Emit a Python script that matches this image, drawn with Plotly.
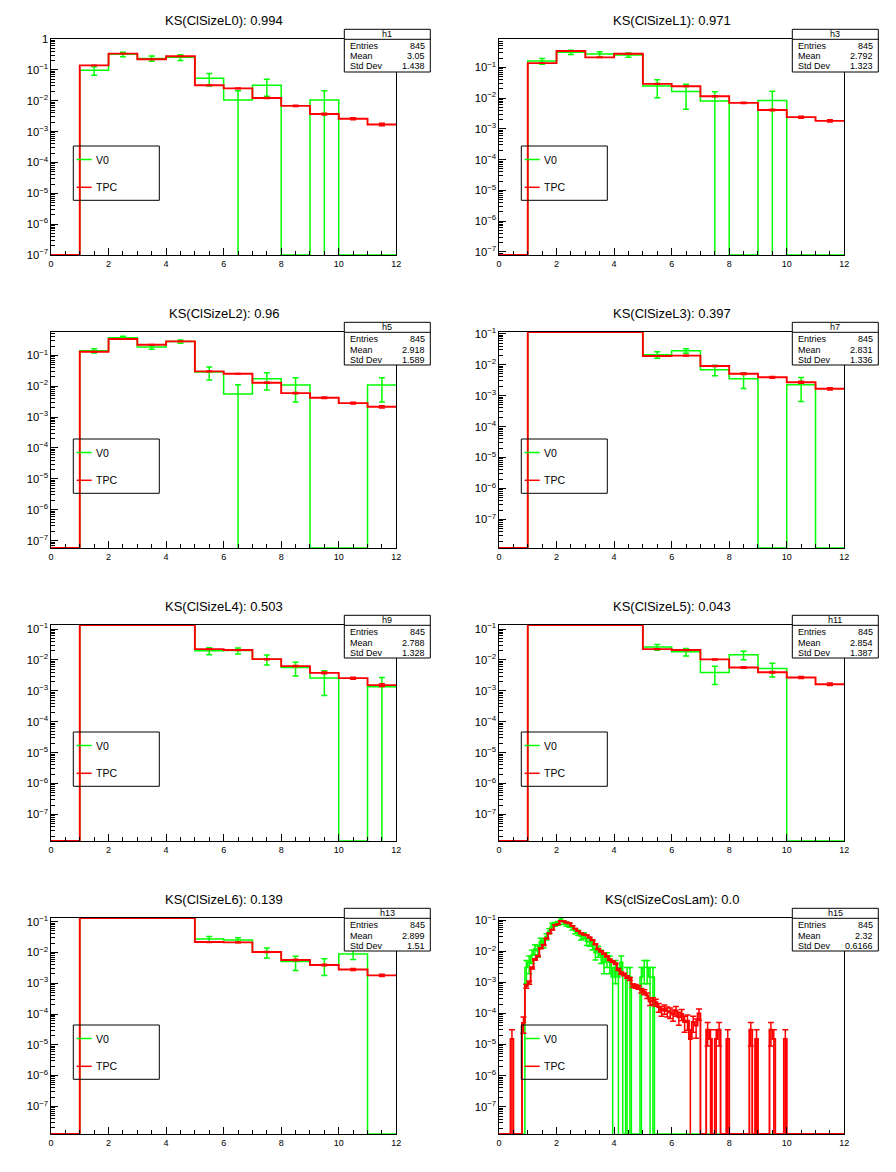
import numpy as np
import plotly.graph_objects as go
from plotly.subplots import make_subplots

W, H = 896, 1172
PAD_W, PAD_H = 448, 293
GREEN, RED = "#00ff00", "#ff0000"
FONT = "Liberation Sans, Arial, sans-serif"

# ---- data: normalised histograms, V0 (green) vs TPC (red) ----
layer_edges = list(range(13))  # 12 unit bins, 0..12

v0_l0 = [0, 0.097, 0.32, 0.235, 0.255, 0.053, 0.0105, 0.032, 0, 0.0106, 0, 0]
v0_l0_err = [0, 0.03, 0.055, 0.045, 0.055, 0.023, 0.0105, 0.018, 0, 0.0106, 0, 0]
tpc_l0 = [0, 0.14, 0.335, 0.22, 0.275, 0.0316, 0.0252, 0.0123, 0.0068, 0.0037, 0.0026, 0.0017]
tpc_l0_err = [0, 0.0014, 0.0022, 0.0018, 0.002, 0.00067, 0.0006, 0.00042, 0.0003, 0.00023, 0.00019, 0.00015]

v0_l1 = [0, 0.16, 0.31, 0.27, 0.251, 0.0248, 0.0163, 0.0081, 0, 0.0083, 0, 0]
v0_l1_err = [0, 0.035, 0.05, 0.05, 0.04, 0.0145, 0.012, 0.0081, 0, 0.0083, 0, 0]
tpc_l1 = [0, 0.137, 0.339, 0.211, 0.277, 0.029, 0.0242, 0.0115, 0.007, 0.0041, 0.0024, 0.00182]
tpc_l1_err = [0, 0.0014, 0.0022, 0.0017, 0.002, 0.00064, 0.00058, 0.0004, 0.00031, 0.00024, 0.00018, 0.00016]

v0_l2 = [0, 0.141, 0.374, 0.186, 0.28, 0.029, 0.0056, 0.0175, 0.0109, 0, 0, 0.0109]
v0_l2_err = [0, 0.022, 0.04, 0.027, 0.035, 0.013, 0.0056, 0.01, 0.0078, 0, 0, 0.0078]
tpc_l2 = [0, 0.131, 0.339, 0.222, 0.284, 0.0303, 0.0254, 0.013, 0.006, 0.00424, 0.00284, 0.00216]
tpc_l2_err = [0, 0.0014, 0.0022, 0.0018, 0.002, 0.00065, 0.0006, 0.00043, 0.00029, 0.00024, 0.0002, 0.00017]

v0_l3 = [0, 0.17, 0.33, 0.21, 0.26, 0.021, 0.028, 0.00685, 0.0035, 0, 0.00225, 0]
v0_l3_err = [0, 0.02, 0.05, 0.04, 0.045, 0.005, 0.0045, 0.0025, 0.0018, 0, 0.0016, 0]
tpc_l3 = [0, 0.145, 0.33, 0.22, 0.27, 0.019, 0.0195, 0.009, 0.0051, 0.0039, 0.0027, 0.00166]
tpc_l3_err = [0, 0.0014, 0.0022, 0.0018, 0.002, 0.0005, 0.0005, 0.00035, 0.00027, 0.00023, 0.0002, 0.00015]

v0_l4 = [0, 0.17, 0.33, 0.21, 0.26, 0.0198, 0.02, 0.0106, 0.0057, 0.0026, 0, 0.00135]
v0_l4_err = [0, 0.02, 0.05, 0.04, 0.045, 0.005, 0.0045, 0.0037, 0.0027, 0.0019, 0, 0.00135]
tpc_l4 = [0, 0.145, 0.33, 0.22, 0.27, 0.0224, 0.0209, 0.0106, 0.0063, 0.0038, 0.00257, 0.00153]
tpc_l4_err = [0, 0.0014, 0.0022, 0.0018, 0.002, 0.00055, 0.00054, 0.00038, 0.0003, 0.00023, 0.00019, 0.00015]

v0_l5 = [0, 0.17, 0.33, 0.21, 0.26, 0.026, 0.0184, 0.0039, 0.0147, 0.0053, 0, 0]
v0_l5_err = [0, 0.02, 0.05, 0.04, 0.045, 0.0055, 0.005, 0.0023, 0.0045, 0.0025, 0, 0]
tpc_l5 = [0, 0.145, 0.33, 0.22, 0.27, 0.0224, 0.0209, 0.0104, 0.0057, 0.004, 0.0027, 0.00164]
tpc_l5_err = [0, 0.0014, 0.0022, 0.0018, 0.002, 0.00055, 0.00054, 0.00038, 0.00028, 0.00024, 0.00019, 0.00015]

v0_l6 = [0, 0.17, 0.33, 0.21, 0.26, 0.0274, 0.0254, 0.0103, 0.0051, 0.004, 0.0089, 0]
v0_l6_err = [0, 0.02, 0.05, 0.04, 0.045, 0.0055, 0.0045, 0.0037, 0.0025, 0.0022, 0.003, 0]
tpc_l6 = [0, 0.145, 0.33, 0.22, 0.27, 0.0218, 0.0213, 0.0103, 0.0057, 0.0039, 0.0028, 0.0018]
tpc_l6_err = [0, 0.0014, 0.0022, 0.0018, 0.002, 0.00055, 0.00054, 0.00038, 0.00028, 0.00023, 0.0002, 0.00016]

# clSizeCosLam: 120 bins of 0.1 from 0 to 12 (one row = one unit)
cos_edges = [round(0.1 * i, 1) for i in range(121)]

v0_cos = ([0, 0, 0, 0, 0, 0, 0, 0, 0, 0.003]
          + [0.0045, 0.0075, 0.012, 0.0105, 0.021, 0.018, 0.03, 0.045, 0.07, 0.075]
          + [0.08, 0.105, 0.085, 0.075, 0.07, 0.058, 0.045, 0.04, 0.03, 0.033]
          + [0.021, 0.02, 0.016, 0.009, 0.0105, 0.0075, 0.0045, 0.006, 0.0045, 0.0015]
          + [0.003, 0.0015, 0.0045, 0, 0.0015, 0.0015, 0, 0, 0, 0.0015]
          + [0.003, 0.003, 0.0015, 0.0015, 0, 0, 0, 0, 0, 0]
          + [0] * 60)
v0_cos_err = ([0, 0, 0, 0, 0, 0, 0, 0, 0, 0.0021]
              + [0.0026, 0.0034, 0.0042, 0.004, 0.0056, 0.0052, 0.0067, 0.0082, 0.0102, 0.0106]
              + [0.011, 0.0125, 0.0113, 0.0106, 0.0102, 0.0093, 0.0082, 0.0077, 0.0067, 0.007]
              + [0.0056, 0.0055, 0.0049, 0.0037, 0.004, 0.0034, 0.0026, 0.003, 0.0026, 0.0015]
              + [0.0021, 0.0015, 0.0026, 0, 0.0015, 0.0015, 0, 0, 0, 0.0015]
              + [0.0021, 0.0021, 0.0015, 0.0015, 0, 0, 0, 0, 0, 0]
              + [0] * 60)
tpc_cos = ([0, 0, 0, 0, 1.5e-5, 0, 0, 0, 5e-5, 7.5e-4]
           + [1.0e-3, 2.9e-3, 5.5e-3, 7.0e-3, 0.0125, 0.016, 0.026, 0.038, 0.05, 0.07]
           + [0.075, 0.095, 0.092, 0.085, 0.08, 0.066, 0.054, 0.045, 0.038, 0.035]
           + [0.033, 0.028, 0.023, 0.017, 0.012, 0.01, 0.0084, 0.0069, 0.0054, 0.0047]
           + [0.004, 0.0026, 0.002, 0.0018, 0.0015, 0.0013, 8e-4, 7.5e-4, 7e-4, 5.5e-4]
           + [4.9e-4, 3.8e-4, 2.4e-4, 2.6e-4, 2.3e-4, 1.6e-4, 1.25e-4, 1.4e-4, 1.2e-4, 1.1e-4]
           + [9.3e-5, 1.25e-4, 7.6e-5, 9.7e-5, 5.3e-5, 5.9e-5, 1.5e-5, 5.3e-5, 4.1e-5, 1e-4]
           + [0, 0, 3e-5, 1.5e-5, 0, 1.5e-5, 3e-5, 0, 0, 1.5e-5]
           + [0, 0, 0, 0, 0, 0, 0, 3e-5, 0, 1.5e-5]
           + [0, 0, 0, 0, 3e-5, 1.5e-5, 0, 0, 0, 1.5e-5]
           + [0] * 20)
tpc_cos_err = ([0, 0, 0, 0, 1.5e-5, 0, 0, 0, 2.7e-5, 1.06e-4]
               + [1.2e-4, 2.1e-4, 2.9e-4, 3.2e-4, 4.3e-4, 4.9e-4, 6.2e-4, 7.5e-4, 8.7e-4, 1.0e-3]
               + [1.06e-3, 1.2e-3, 1.17e-3, 1.13e-3, 1.1e-3, 1.0e-3, 9e-4, 8.2e-4, 7.5e-4, 7.2e-4]
               + [7e-4, 6.5e-4, 5.9e-4, 5e-4, 4.2e-4, 3.9e-4, 3.5e-4, 3.2e-4, 2.8e-4, 2.7e-4]
               + [2.4e-4, 2e-4, 1.7e-4, 1.6e-4, 1.5e-4, 1.4e-4, 1.1e-4, 1.06e-4, 1.0e-4, 9e-5]
               + [8.6e-5, 7.5e-5, 5.9e-5, 6.2e-5, 5.9e-5, 5e-5, 4.3e-5, 4.6e-5, 4.3e-5, 4.1e-5]
               + [3.7e-5, 4.3e-5, 3.4e-5, 3.8e-5, 2.8e-5, 3e-5, 1.5e-5, 2.8e-5, 2.5e-5, 3.9e-5]
               + [0, 0, 2.1e-5, 1.5e-5, 0, 1.5e-5, 2.1e-5, 0, 0, 1.5e-5]
               + [0, 0, 0, 0, 0, 0, 0, 2.1e-5, 0, 1.5e-5]
               + [0, 0, 0, 0, 2.1e-5, 1.5e-5, 0, 0, 0, 1.5e-5]
               + [0] * 20)

titles = ["KS(ClSizeL0): 0.994", "KS(ClSizeL1): 0.971", "KS(ClSizeL2): 0.96",
          "KS(ClSizeL3): 0.397", "KS(ClSizeL4): 0.503", "KS(ClSizeL5): 0.043",
          "KS(ClSizeL6): 0.139", "KS(clSizeCosLam): 0.0"]
hist_names = ["h1", "h3", "h5", "h7", "h9", "h11", "h13", "h15"]
entries = ["845"] * 8
means = ["3.05", "2.792", "2.918", "2.831", "2.788", "2.854", "2.899", "2.32"]
std_devs = ["1.438", "1.323", "1.589", "1.336", "1.328", "1.387", "1.51", "0.6166"]
legend_labels = ["V0", "TPC"]

# log10 y-range of each pad
y_lo = [-7.0, -7.1, -7.24, -7.92, -7.86, -7.86, -7.9, -7.88]
y_hi = [0.0, -0.08, -0.243, -0.946, -0.87, -0.87, -0.88, -0.926]

panels = [
    (layer_edges, v0_l0, v0_l0_err, tpc_l0, tpc_l0_err),
    (layer_edges, v0_l1, v0_l1_err, tpc_l1, tpc_l1_err),
    (layer_edges, v0_l2, v0_l2_err, tpc_l2, tpc_l2_err),
    (layer_edges, v0_l3, v0_l3_err, tpc_l3, tpc_l3_err),
    (layer_edges, v0_l4, v0_l4_err, tpc_l4, tpc_l4_err),
    (layer_edges, v0_l5, v0_l5_err, tpc_l5, tpc_l5_err),
    (layer_edges, v0_l6, v0_l6_err, tpc_l6, tpc_l6_err),
    (cos_edges, v0_cos, v0_cos_err, tpc_cos, tpc_cos_err),
]


def px(x):
    return x / W


def py(y):
    return 1 - y / H


fig = make_subplots(rows=4, cols=2)

for k, (edges, v0, v0e, tpc, tpce) in enumerate(panels):
    r, c = k // 2 + 1, k % 2 + 1
    lo, hi = 10 ** y_lo[k], 10 ** y_hi[k]
    e = np.asarray(edges, float)
    centers = (e[:-1] + e[1:]) / 2
    for vals, errs, color, lw in [(v0, v0e, GREEN, 1.5), (tpc, tpce, RED, 1.9)]:
        vals = np.asarray(vals, float)
        errs = np.asarray(errs, float)
        # ROOT draws empty / overflowing bins on the frame edge
        shown = np.clip(vals, lo, hi)
        fig.add_trace(go.Scatter(
            x=e, y=np.append(shown, shown[-1]), mode="lines",
            line=dict(color=color, width=lw, shape="hv"),
            hoverinfo="skip", showlegend=False), row=r, col=c)
        nz = vals > 0
        down = np.where(vals - errs > lo, errs, vals - lo * 0.3)
        fig.add_trace(go.Scatter(
            x=centers[nz], y=vals[nz], mode="markers",
            marker=dict(size=1, color=color),
            error_y=dict(type="data", array=errs[nz], arrayminus=down[nz],
                         color=color, thickness=1.5, width=3),
            hoverinfo="skip", showlegend=False), row=r, col=c)

    ox, oy = (c - 1) * PAD_W, (r - 1) * PAD_H
    fig.update_xaxes(
        domain=[px(ox + 51), px(ox + 396.3)], range=[0, 12], automargin=False,
        dtick=2, ticks="inside", ticklen=7, tickcolor="black",
        minor=dict(ticks="inside", dtick=0.5, ticklen=4, tickcolor="black"),
        showline=True, linecolor="black", linewidth=1, mirror=True,
        showgrid=False, zeroline=False,
        tickfont=dict(size=9, color="black", family=FONT),
        row=r, col=c)
    fig.update_yaxes(
        domain=[py(oy + 255), py(oy + 39)], type="log", automargin=False,
        range=[y_lo[k], y_hi[k]], dtick=1, exponentformat="power",
        ticks="inside", ticklen=7, tickcolor="black",
        showline=True, linecolor="black", linewidth=1, mirror=True,
        showgrid=False, zeroline=False,
        tickfont=dict(size=9, color="black", family=FONT),
        row=r, col=c)

    # log minor ticks (2..9 in each decade) on an overlaid, label-less axis
    n = k + 1
    sfx = "" if n == 1 else str(n)
    m = 9 + k
    minor_vals = [f * 10.0 ** d for d in range(-9, 1) for f in range(2, 10)]
    fig.add_trace(go.Scatter(x=[None], y=[None], xaxis="x" + sfx, yaxis="y" + str(m),
                             showlegend=False, hoverinfo="skip"))
    fig.update_layout(**{
        "yaxis" + str(m): dict(
            overlaying="y" + sfx, anchor="x" + sfx, side="left", type="log",
            range=[y_lo[k], y_hi[k]], tickmode="array", tickvals=minor_vals,
            ticks="inside", ticklen=4, tickcolor="black", showticklabels=False,
            showgrid=False, zeroline=False, showline=False, automargin=False)
    })

    # title
    fig.add_annotation(x=px(ox + 224), y=py(oy + 20.5), xref="paper", yref="paper",
                       text=titles[k], showarrow=False, xanchor="center", yanchor="middle",
                       font=dict(size=13, color="black", family=FONT))

    # stats box
    fig.add_shape(type="rect", xref="paper", yref="paper",
                  x0=px(ox + 344.3), x1=px(ox + 430.3), y0=py(oy + 72), y1=py(oy + 29.3),
                  line=dict(color="black", width=1), fillcolor="white", layer="above")
    fig.add_shape(type="line", xref="paper", yref="paper",
                  x0=px(ox + 344.3), x1=px(ox + 430.3), y0=py(oy + 39.3), y1=py(oy + 39.3),
                  line=dict(color="black", width=1), layer="above")
    fig.add_annotation(x=px(ox + 387.3), y=py(oy + 34.3), xref="paper", yref="paper",
                       text=hist_names[k], showarrow=False, xanchor="center", yanchor="middle",
                       font=dict(size=9, color="black", family=FONT))
    for row_y, name, val in [(46, "Entries", entries[k]), (56.5, "Mean", means[k]),
                             (66.5, "Std Dev", std_devs[k])]:
        fig.add_annotation(x=px(ox + 347.5), y=py(oy + row_y), xref="paper", yref="paper",
                           text=name, showarrow=False, xanchor="left", yanchor="middle",
                           font=dict(size=9, color="black", family=FONT))
        fig.add_annotation(x=px(ox + 426.5), y=py(oy + row_y), xref="paper", yref="paper",
                           text=val, showarrow=False, xanchor="right", yanchor="middle",
                           font=dict(size=9, color="black", family=FONT))

    # legend box
    fig.add_shape(type="rect", xref="paper", yref="paper",
                  x0=px(ox + 73.3), x1=px(ox + 159.3), y0=py(oy + 200.3), y1=py(oy + 146),
                  line=dict(color="black", width=1), layer="above")
    for ly, label, color in [(159.5, legend_labels[0], GREEN), (187.3, legend_labels[1], RED)]:
        fig.add_shape(type="line", xref="paper", yref="paper",
                      x0=px(ox + 76.7), x1=px(ox + 91.7), y0=py(oy + ly), y1=py(oy + ly),
                      line=dict(color=color, width=1.5), layer="above")
        fig.add_annotation(x=px(ox + 93.5), y=py(oy + ly), xref="paper", yref="paper",
                           text=label, showarrow=False, xanchor="left", yanchor="middle",
                           font=dict(size=10.5, color="black", family=FONT))

fig.update_layout(
    width=W, height=H, margin=dict(l=0, r=0, t=0, b=0),
    paper_bgcolor="white", plot_bgcolor="white",
    font=dict(family=FONT, color="black"),
    showlegend=False,
)

# the page's default body margin would shift the canvas
fig.write_html("out.html", config={"displayModeBar": False},
               post_script="document.body.style.margin='0';document.body.style.padding='0';")
